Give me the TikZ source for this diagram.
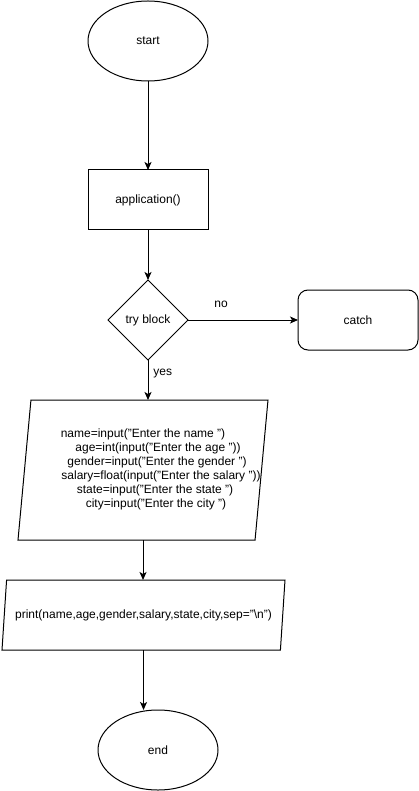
\documentclass[tikz,border=0pt]{standalone}
\usepackage{fontspec}
\setmainfont{Liberation Sans}
\usepackage{tikz}
\usetikzlibrary{shapes.geometric,arrows.meta}

\begin{document}
\begin{tikzpicture}[x=1pt,y=-1pt,line width=1pt,
  every node/.style={font=\fontsize{12}{14}\selectfont,outer sep=0pt},
  terminal/.style={draw,ellipse,minimum width=120pt,minimum height=80pt},
  process/.style={draw,rectangle,minimum width=120pt,minimum height=60pt},
  decision/.style={draw,diamond,minimum width=80pt,minimum height=80pt,inner sep=0pt},
  iobox/.style={draw,trapezium,trapezium stretches body,inner xsep=0pt,align=center},
  flow/.style={-{Stealth[length=8pt,width=7pt,inset=2pt]}}]
\fill[white] (0,0) rectangle (419,791);
\useasboundingbox (0,0) rectangle (419,791);
\node[terminal] (start) at (148,41) {start};
\node[process] (app) at (148,200) {application()};
\node[decision] (try) at (148,320) {try block};
\node[process,rounded corners=10pt] (catch) at (358,320) {catch};
\node[iobox,trapezium left angle=81.87,trapezium right angle=98.13,
  minimum width=250pt,minimum height=140pt] (input) at (143,470)
  {\makebox[200pt]{\begin{tabular}{@{}c@{}}
   name=input("Enter the name ")\\
   \hspace*{30pt}age=int(input("Enter the age "))\\
   \hspace*{28pt}gender=input("Enter the gender ")\\
   \hspace*{36pt}salary=float(input("Enter the salary "))\\
   \hspace*{24pt}state=input("Enter the state ")\\
   \hspace*{26pt}city=input("Enter the city ")
   \end{tabular}}};
\node[iobox,trapezium left angle=75.6,trapezium right angle=104.4,
  minimum width=283pt,minimum height=70pt] (output) at (143.5,615)
  {print(name,age,gender,salary,state,city,sep="\textbackslash n")};
\node[terminal] (stop) at (158,750) {end};
\draw[flow] (start) -- (app);
\draw[flow] (app) -- (try);
\draw[flow] (try) -- node[pos=0.3,above=9pt] {no} (catch);
\draw[flow] (try.south) -- node[pos=0.35,right=2pt] {yes} (try.south |- input.north);
\draw[flow] (input.south) -- (input.south |- output.north);
\draw[flow] (output.south) -- (output.south |- stop.north);
\end{tikzpicture}
\end{document}
